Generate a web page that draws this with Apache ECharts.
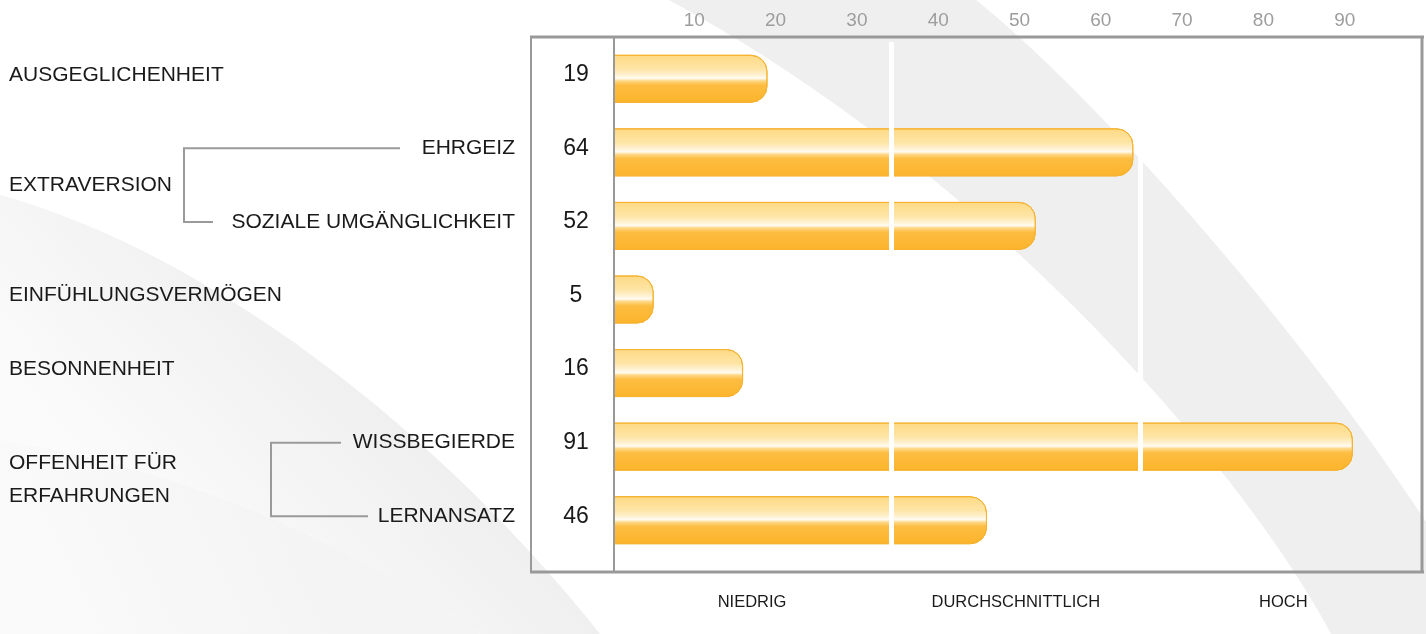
<!DOCTYPE html>
<html><head><meta charset="utf-8">
<script src="https://cdn.jsdelivr.net/npm/echarts@6/dist/echarts.min.js"></script>
<style>html,body{margin:0;padding:0;background:#fff}#c{width:1426px;height:634px}</style>
</head><body><div id="c"></div>
<script>
// ---- data ----
const rowKeys = ['AUSGEGLICHENHEIT','EHRGEIZ','SOZIALE UMGÄNGLICHKEIT','EINFÜHLUNGSVERMÖGEN','BESONNENHEIT','WISSBEGIERDE','LERNANSATZ'];
const values = [19, 64, 52, 5, 16, 91, 46];
const subLabels = ['', 'EHRGEIZ', 'SOZIALE UMGÄNGLICHKEIT', '', '', 'WISSBEGIERDE', 'LERNANSATZ'];
const mainLabels = ['AUSGEGLICHENHEIT', 'EXTRAVERSION', 'EINFÜHLUNGSVERMÖGEN', 'BESONNENHEIT', 'OFFENHEIT FÜR\nERFAHRUNGEN'];
const mainLabelRows = [[0], [1, 2], [3], [4], [5, 6]];
const levelBounds = [34.2, 64.9];
const levelLabels = ['NIEDRIG', 'DURCHSCHNITTLICH', 'HOCH'];
const axisMin = 0, axisMax = 100, axisStep = 10;

// ---- chart ----
const FONT = '"Liberation Sans", Arial, sans-serif';
const chart = echarts.init(document.getElementById('c'), null, {renderer: 'canvas'});

const barFill = {
  type: 'linear', x: 0, y: 0, x2: 0, y2: 1,
  colorStops: [
    {offset: 0, color: '#fdd984'},
    {offset: 0.3, color: '#fee5a6'},
    {offset: 0.44, color: '#fff4da'},
    {offset: 0.49, color: '#fffcf4'},
    {offset: 0.54, color: '#fed98a'},
    {offset: 0.63, color: '#fdbd42'},
    {offset: 1, color: '#fcb42a'}
  ]
};

// decorative background swooshes (cubic curves sampled into polygons)
function cubic(p0, p1, p2, p3, n) {
  const pts = [];
  for (let i = 0; i <= n; i++) {
    const t = i / n, u = 1 - t;
    pts.push([
      u*u*u*p0[0] + 3*u*u*t*p1[0] + 3*u*t*t*p2[0] + t*t*t*p3[0],
      u*u*u*p0[1] + 3*u*u*t*p1[1] + 3*u*t*t*p2[1] + t*t*t*p3[1]
    ]);
  }
  return pts;
}
const lowerCurve = cubic([0,440],[200,470],[380,560],[480,634], 40);
const upperCurve = cubic([0,195],[200,250],[430,420],[600,634], 40);
const bandRight = cubic([976,0],[1100,100],[1300,330],[1426,522], 40);
const bandLeft = cubic([1331,634],[1250,480],[1000,180],[669,0], 40);
const bgShapes = [
  {type: 'polygon', z: -10, silent: true,
   shape: {points: lowerCurve.concat([[0,634]])},
   style: {fill: {type: 'linear', x: 300, y: 520, x2: 60, y2: 634, global: true,
     colorStops: [{offset: 0, color: '#f4f4f4'}, {offset: 1, color: '#fafafa'}]}}},
  {type: 'polygon', z: -10, silent: true,
   shape: {points: upperCurve.concat(lowerCurve.slice().reverse())},
   style: {fill: {type: 'linear', x: 420, y: 330, x2: 180, y2: 560, global: true,
     colorStops: [{offset: 0, color: '#ececec'}, {offset: 1, color: '#fbfbfb'}]}}},
  {type: 'polygon', z: -10, silent: true,
   shape: {points: [[669,0]].concat(bandRight, [[1426,634]], bandLeft)},
   style: {fill: '#efefef'}}
];

chart.setOption({
  animation: false,
  backgroundColor: '#ffffff',
  grid: {left: 613, right: -2, top: 42, bottom: 77, containLabel: false},
  xAxis: {
    type: 'value', position: 'top', min: axisMin, max: axisMax, interval: axisStep,
    axisLine: {show: false}, axisTick: {show: false}, splitLine: {show: false},
    axisLabel: {show: true, showMinLabel: false, showMaxLabel: false, margin: 12,
      color: '#9d9d9d', fontSize: 19, fontFamily: FONT}
  },
  yAxis: {
    type: 'category', data: rowKeys, inverse: true,
    axisLine: {show: false}, axisTick: {show: false}, axisLabel: {show: false}, splitLine: {show: false}
  },
  series: [{
    type: 'bar', data: values, barWidth: 48, z: 2,
    itemStyle: {color: barFill, borderColor: '#f6b22e', borderWidth: 1, borderRadius: [0, 16, 16, 0]},
    markLine: {
      silent: true, symbol: ['none', 'none'], label: {show: false},
      lineStyle: {color: '#ffffff', width: 5, type: 'solid'},
      data: levelBounds.map(v => ({xAxis: v}))
    }
  }],
  graphic: bgShapes
});

// ---- annotations placed through the axes ----
const yPix = i => chart.convertToPixel({yAxisIndex: 0}, rowKeys[i]);
const xPix = v => chart.convertToPixel({xAxisIndex: 0}, v);
const TY = -4;
const g = bgShapes.slice();

const txt = (x, y, text, size, align, extra) => ({
  type: 'text', x: x, y: y, z: 20, silent: true,
  style: Object.assign({text: text, fontSize: size, fontFamily: FONT, fill: '#1a1a1a',
    align: align, verticalAlign: 'middle'}, extra || {})
});

// value column
values.forEach((v, i) => g.push(txt(576, yPix(i) + TY, String(v), 23, 'center')));
// sub labels
subLabels.forEach((s, i) => { if (s) g.push(txt(515, yPix(i) + TY, s, 21, 'right')); });
// main labels
mainLabels.forEach((m, k) => {
  const rows = mainLabelRows[k];
  const y = rows.reduce((a, r) => a + yPix(r), 0) / rows.length + TY;
  g.push(txt(9, y, m, 21, 'left', {lineHeight: 33}));
});
// brackets
const bracket = (x, rTop, rBot, xTopEnd, xBotEnd) => {
  const y1 = yPix(rTop) + TY, y2 = yPix(rBot) + TY;
  g.push({type: 'polyline', z: 20, silent: true,
    shape: {points: [[xTopEnd, y1], [x, y1], [x, y2], [xBotEnd, y2]]},
    style: {stroke: '#9a9a9a', lineWidth: 2, fill: null}});
};
bracket(184, 1, 2, 400, 213);
bracket(271, 5, 6, 341, 368);

// level labels under the box
const segs = [axisMin].concat(levelBounds, [axisMax]);
levelLabels.forEach((l, i) => {
  const cx = (xPix(segs[i]) + xPix(segs[i + 1])) / 2;
  g.push(txt(cx, 602, l, 16.5, 'center'));
});

// frame
const line = (x1, y1, x2, y2, w) => g.push({type: 'line', z: 30, silent: true,
  shape: {x1: x1, y1: y1, x2: x2, y2: y2}, style: {stroke: '#999999', lineWidth: w}});
line(530, 37, 1424, 37, 3);
line(530, 572, 1424, 572, 3);
line(531, 37, 531, 572, 2);
line(1422, 37, 1422, 572, 3);
line(614, 37, 614, 572, 2);

chart.setOption({graphic: g});
</script>
</body></html>
